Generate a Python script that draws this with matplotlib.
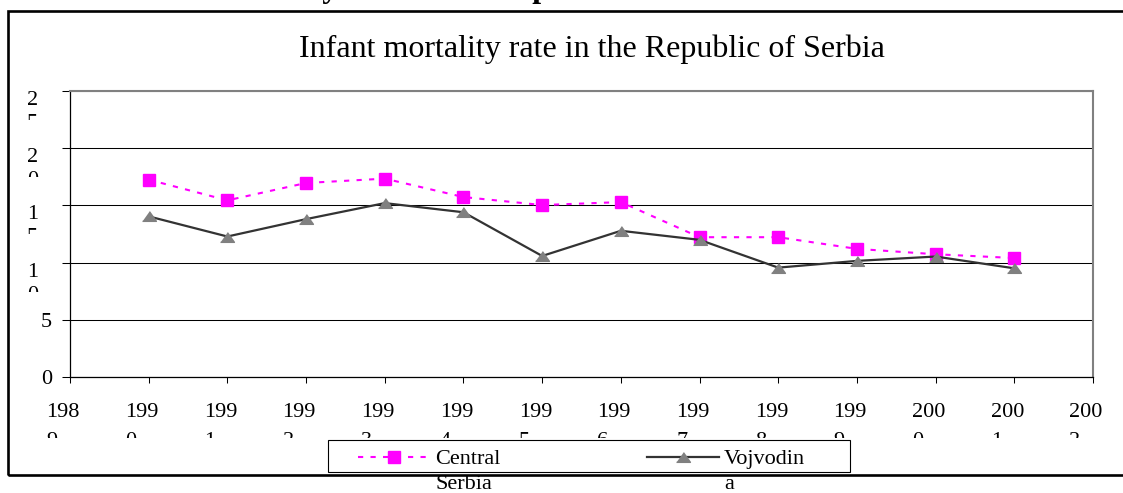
import matplotlib
matplotlib.use('Agg')
import matplotlib.pyplot as plt
from matplotlib.transforms import offset_copy, Bbox, blended_transform_factory
from matplotlib.patches import Rectangle
from matplotlib.text import Annotation

plt.rcParams['font.family'] = ['Liberation Serif', 'DejaVu Serif']

# ---------------- data ----------------
title = 'Infant mortality rate in the Republic of Serbia'
years = [1990, 1991, 1992, 1993, 1994, 1995, 1996, 1997, 1998, 1999, 2000, 2001]
central_serbia = [17.25, 15.44, 16.96, 17.34, 15.73, 15.03, 15.29, 12.22, 12.22, 11.2, 10.73, 10.4]
vojvodina = [14.04, 12.28, 13.8, 15.2, 14.4, 10.58, 12.78, 11.99, 9.56, 10.15, 10.53, 9.5]
series_names = ['Central Serbia', 'Vojvodina']
x_ticks = list(range(1989, 2003))
x_tick_labels = [str(v) for v in x_ticks]
y_ticks = [0, 5, 10, 15, 20, 25]
y_tick_labels = ['0', '5', '10', '15', '20', '25']


def wrap(text, width):
    """Excel-like wrap: break at a space if possible, else hard break."""
    lines = []
    rest = text
    while len(rest) > width:
        cut = rest.rfind(' ', 0, width + 1)
        if cut > 0:
            lines.append(rest[:cut])
            rest = rest[cut + 1:]
        else:
            lines.append(rest[:width])
            rest = rest[width:]
    lines.append(rest)
    return lines


W, H = 1123, 493
fig = plt.figure(figsize=(W / 100, H / 100), dpi=100)
fig.patch.set_facecolor('white')


def fx(px):
    return px / W


def fy(py):
    return (H - py) / H


ax = fig.add_axes([fx(70), fy(377), (1093 - 70) / W, (377 - 91) / H])
ax.set_xlim(x_ticks[0], x_ticks[-1])
ax.set_ylim(y_ticks[0], y_ticks[-1])
ax.set_xticks(x_ticks)
ax.set_yticks(y_ticks)
ax.set_xticklabels([])
ax.set_yticklabels([])
ax.tick_params(axis='y', direction='out', length=5.8, width=0.75, color='black')
ax.tick_params(axis='x', direction='out', length=4.3, width=0.75, color='black')
ax.set_axisbelow(True)
ax.yaxis.grid(True, color='black', linewidth=0.75)
for s in ['left', 'bottom']:
    ax.spines[s].set_color('black')
    ax.spines[s].set_linewidth(0.9)
for s in ['top', 'right']:
    ax.spines[s].set_color('#808080')
    ax.spines[s].set_linewidth(1.5)

tri = [(-1, -0.7), (1, -0.7), (0, 0.7)]
l1, = ax.plot(years, central_serbia, color='#FF00FF', linestyle=(0, (2.5, 3.5)), linewidth=1.5,
              marker='s', markersize=8.6, markerfacecolor='#FF00FF', markeredgecolor='#FF00FF',
              zorder=3)
l2, = ax.plot(years, vojvodina, color='#333333', linestyle='-', linewidth=1.6,
              marker=tri, markersize=10, markerfacecolor='#808080', markeredgecolor='#808080',
              zorder=3)

fig.canvas.draw()

# y tick labels (wrapped, second line clipped like the original)
trans_y = blended_transform_factory(ax.transAxes, ax.transData)
for val, lab in zip(y_ticks, y_tick_labels):
    lines = wrap(lab, 1)
    if len(lines) == 1:
        fig.text(0, val, lines[0], transform=offset_copy(trans_y, fig=fig, x=-18, y=-7.5, units='dots'),
                 ha='right', va='baseline', fontsize=16)
    else:
        fig.text(0, val, lines[0], transform=offset_copy(trans_y, fig=fig, x=-37.5, y=-14, units='dots'),
                 ha='center', va='baseline', fontsize=16)
        t2 = fig.text(0, val, lines[1], transform=offset_copy(trans_y, fig=fig, x=-37.5, y=-37, units='dots'),
                      ha='center', va='baseline', fontsize=16)
        yd = ax.transData.transform((x_ticks[0], val))[1]
        t2.set_clip_box(Bbox([[0, yd - 29], [W, yd + 60]]))
        t2.set_clip_on(True)

# x tick labels (wrapped, second line clipped)
trans_x = blended_transform_factory(ax.transData, ax.transAxes)
y_axis_disp = ax.transAxes.transform((0, 0))[1]
for val, lab in zip(x_ticks, x_tick_labels):
    lines = wrap(lab, 3)
    fig.text(val, 0, lines[0], transform=offset_copy(trans_x, fig=fig, x=-23.5, y=-40, units='dots'),
             ha='left', va='baseline', fontsize=16)
    if len(lines) > 1:
        t2 = fig.text(val, 0, lines[1], transform=offset_copy(trans_x, fig=fig, x=-23.5, y=-69.5, units='dots'),
                      ha='left', va='baseline', fontsize=16)
        t2.set_clip_box(Bbox([[0, y_axis_disp - 61], [W, y_axis_disp]]))
        t2.set_clip_on(True)

# title and clipped heading above
fig.text(fx(592), fy(57), title, ha='center', va='baseline', fontsize=23)
fig.text(fx(117), fy(-2.5), title, ha='left', va='baseline', fontsize=23, fontweight='bold')

# legend (text wraps out of its box as in the original)
leg_lines = [wrap(n, 8) for n in series_names]
leg = fig.legend([l1, l2], [ln[0] for ln in leg_lines], ncol=2, loc='center left',
                 bbox_to_anchor=(fx(358), fy(459)), bbox_transform=fig.transFigure,
                 frameon=False, fontsize=16, handlelength=3.24, handletextpad=0.23,
                 columnspacing=6.58, borderpad=0, borderaxespad=0, numpoints=1)
fig.add_artist(Rectangle((fx(328), fy(472)), (850 - 328) / W, (472 - 440) / H,
                         transform=fig.transFigure, fill=False, linewidth=0.8, edgecolor='black'))
for txt, ln in zip(leg.get_texts(), leg_lines):
    for k, extra in enumerate(ln[1:], start=1):
        ann = Annotation(extra, xy=(0, 0), xycoords=txt, xytext=(0, -25 * k), textcoords='offset pixels',
                         ha='left', va='bottom', fontsize=16, zorder=10)
        fig.add_artist(ann)

# outer chart border (extends beyond the right edge)
fig.add_artist(Rectangle((fx(8), fy(475)), (1200 - 8) / W, (475 - 11) / H,
                         transform=fig.transFigure, fill=False, linewidth=1.9, edgecolor='black'))

fig.savefig('out.png', dpi=100)
